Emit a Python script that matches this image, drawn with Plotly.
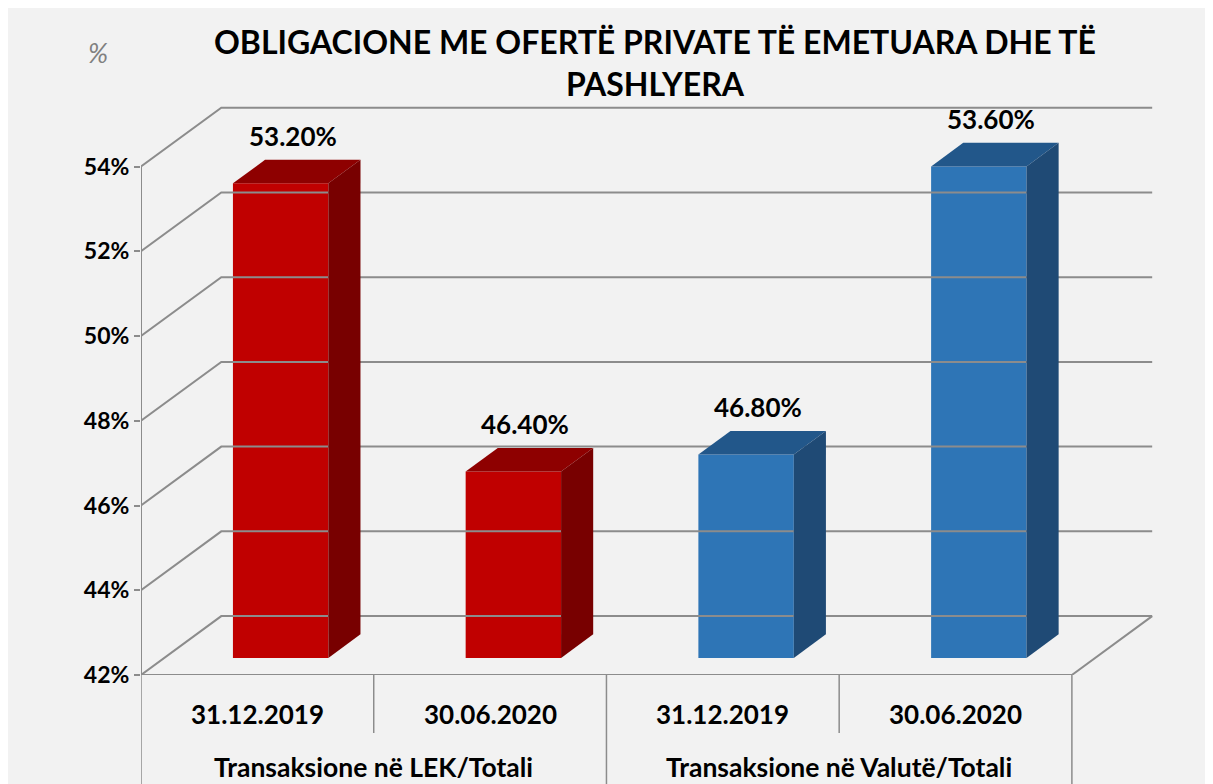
import plotly.graph_objects as go

# ---- data ----
dates = ["31.12.2019", "30.06.2020", "31.12.2019", "30.06.2020"]
groups = ["Transaksione në LEK/Totali", "Transaksione në Valutë/Totali"]
values = [53.20, 46.40, 46.80, 53.60]
labels = ["53.20%", "46.40%", "46.80%", "53.60%"]
ticks = [42, 44, 46, 48, 50, 52, 54]
tick_text = ["42%", "44%", "46%", "48%", "50%", "52%", "54%"]
front_colors = ["#C00000", "#C00000", "#2E75B6", "#2E75B6"]
top_colors = ["#8E0000", "#8E0000", "#22578A", "#22578A"]
side_colors = ["#780000", "#780000", "#1F4A75", "#1F4A75"]

# ---- 3D geometry (in axis units) ----
Y0 = 42.0
DX, DY = 0.345, 1.39        # full depth offset
F, B = 0.29, 0.40           # bar front depth fraction, bar depth fraction
W = 0.41                    # bar width
XMIN, XMAX = -0.5, 3.5
FONT = "Lato"
GRID = "#8C8C8C"

fig = go.Figure()

# walls / gridlines
gx, gy = [], []
for t in ticks:
    gx += [XMIN, XMIN + DX, XMAX + DX, None]
    gy += [t, t + DY, t + DY, None]
gx += [XMIN, XMAX, XMAX + DX, None, XMIN, XMIN]
gy += [Y0, Y0, Y0 + DY, None, Y0, ticks[-1]]
fig.add_trace(go.Scatter(x=gx, y=gy, mode="lines", line=dict(color=GRID, width=2),
                         hoverinfo="skip", showlegend=False))

# bars
for i, v in enumerate(values):
    c = i + F * DX
    base = Y0 + F * DY
    fig.add_trace(go.Bar(x=[c], y=[v - Y0], base=[base], width=W,
                         marker=dict(color=front_colors[i], line=dict(width=0)),
                         showlegend=False, hoverinfo="skip"))
    xl, xr = c - W / 2, c + W / 2
    yt = v + F * DY
    yb = base
    bdx, bdy = B * DX, B * DY
    fig.add_trace(go.Scatter(x=[xl, xr, xr + bdx, xl + bdx, xl],
                             y=[yt, yt, yt + bdy, yt + bdy, yt],
                             fill="toself", fillcolor=top_colors[i], mode="lines",
                             line=dict(width=0, color=top_colors[i]),
                             hoverinfo="skip", showlegend=False))
    fig.add_trace(go.Scatter(x=[xr, xr, xr + bdx, xr + bdx, xr],
                             y=[yb, yt, yt + bdy, yb + bdy, yb],
                             fill="toself", fillcolor=side_colors[i], mode="lines",
                             line=dict(width=0, color=side_colors[i]),
                             hoverinfo="skip", showlegend=False))
    fig.add_annotation(x=c, y=v + (F + B) * DY, text=labels[i], showarrow=False,
                       xshift=12, yshift=24, yanchor="middle",
                       font=dict(family=FONT, size=26, color="black", weight="bold"))

# page offset (body margin) and plot geometry in page px
OFF = 8
FW, FH = 1213 - OFF, 784 - OFF
L, T = 141 - OFF, 103 - OFF
R = FW - (1158 - OFF)
Bm = FH - (675 - OFF)
H = FH - T - Bm
PW = FW - L - R


def py(px):
    return (675 - px) / H


def pxx(px):
    return (px - 141) / PW


shapes = []
# category table lines
for k in range(5):
    xk = XMIN + k
    bottom = py(790) if k % 2 == 0 else py(733)
    shapes.append(dict(type="line", xref="x", yref="paper", x0=xk, x1=xk,
                       y0=0, y1=bottom, line=dict(color=GRID, width=1.5)))

for i, d in enumerate(dates):
    fig.add_annotation(x=i, y=py(714), xref="x", yref="paper", text=d,
                       showarrow=False, yanchor="middle",
                       font=dict(family=FONT, size=26, color="black", weight="bold"))
for g, gname in enumerate(groups):
    fig.add_annotation(x=2 * g + 0.5, y=py(767), xref="x", yref="paper", text=gname,
                       showarrow=False, yanchor="middle",
                       font=dict(family=FONT, size=26.5, color="black", weight="bold"))

fig.add_annotation(x=pxx(655), y=py(62), xref="paper", yref="paper",
                   text="OBLIGACIONE ME OFERTË PRIVATE TË EMETUARA DHE TË<br>PASHLYERA",
                   showarrow=False, yanchor="middle",
                   font=dict(family=FONT, size=32, color="black", weight="bold"))
fig.add_annotation(x=pxx(86), y=py(52), xref="paper", yref="paper", text="<i>%</i>",
                   showarrow=False, yanchor="middle",
                   font=dict(family=FONT, size=27, color="#808080"))

fig.update_layout(
    width=FW, height=FH,
    margin=dict(l=L, r=R, t=T, b=Bm),
    paper_bgcolor="#F2F2F2", plot_bgcolor="rgba(0,0,0,0)",
    barmode="overlay", showlegend=False, shapes=shapes,
    xaxis=dict(range=[XMIN, 3.87], visible=False, fixedrange=True),
    yaxis=dict(range=[Y0, 55.5], tickvals=ticks, ticktext=tick_text,
               ticks="outside", ticklen=6, tickcolor=GRID, tickwidth=1.5,
               showgrid=False, zeroline=False, showline=False,
               tickfont=dict(family=FONT, size=23, color="black", weight="bold")),
)

fig.write_html("out.html")
